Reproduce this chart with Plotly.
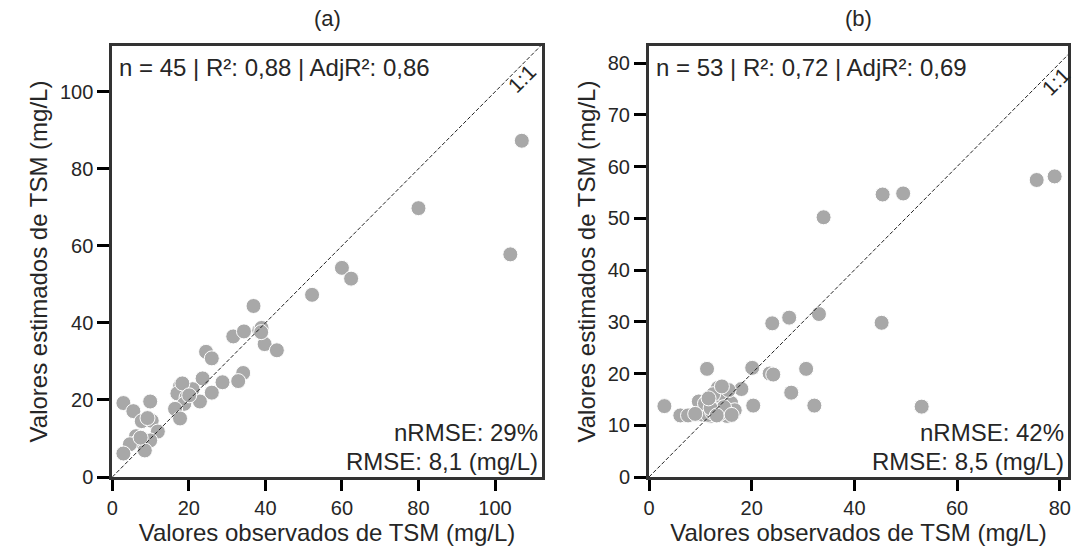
import plotly.graph_objects as go

# Panel (a) data
obs_a = [107, 104, 80, 60, 62.4, 52.2, 36.9, 31.6, 34.4, 38.4, 39, 39.8, 43, 24.5, 26,
         34.2, 32.9, 28.8, 23.6, 26, 22.9, 21, 17.7, 17, 19.4, 18.8, 16.4, 17.7, 2.9, 5.5,
         9.9, 7.7, 10.3, 11.9, 6.2, 6.8, 9.9, 4.6, 8.5, 2.9, 18.3, 20.1, 9.2, 7.4, 38.9]
est_a = [87.3, 57.8, 69.8, 54.3, 51.5, 47.3, 44.4, 36.5, 37.8, 38.1, 38.7, 34.5, 32.9, 32.5, 30.8,
         27, 24.9, 24.6, 25.6, 21.9, 19.6, 22.8, 23.6, 21.7, 20.7, 19, 17.7, 15.2, 19.2, 17.1,
         19.6, 14.5, 14.6, 11.8, 10.6, 9.3, 9.5, 8.5, 6.9, 6.1, 24.3, 21.2, 15.3, 10.2, 37.6]

# Panel (b) data
obs_b = [3, 6.1, 7.6, 9.7, 11.3, 10.6, 11.2, 11.9, 13.4, 13.1, 14.8, 13.7, 15.7, 15.2, 16.4,
         18, 20.1, 20.3, 23.5, 24.2, 24, 27.3, 27.7, 30.6, 32.2, 33.1, 45.3, 53.1, 34.0, 45.5,
         49.5, 75.5, 79, 10.2, 11.5, 12.3, 12.8, 14.3, 14.0, 15.0, 12.5, 16.0, 16.7, 10.9, 13.8,
         14.6, 12.0, 15.5, 9.0, 13.2, 14.2, 11.6, 16.1]
est_b = [13.7, 11.9, 11.9, 14.6, 20.9, 12.3, 14.6, 11.8, 17.2, 15.8, 16.5, 14.0, 13.9, 11.8, 12.4,
         17.0, 21.1, 13.8, 20.0, 19.8, 29.7, 30.8, 16.3, 20.9, 13.8, 31.5, 29.8, 13.6, 50.2, 54.6,
         54.8, 57.4, 58.1, 12.1, 12.0, 12.5, 14.2, 14.5, 15.6, 15.2, 16.0, 14.3, 12.9, 14.2, 12.2,
         13.5, 13.3, 16.8, 12.2, 11.9, 17.5, 15.2, 12.0]

xticks_a = [0, 20, 40, 60, 80, 100]
yticks_a = [0, 20, 40, 60, 80, 100]
xticks_b = [0, 20, 40, 60, 80]
yticks_b = [0, 10, 20, 30, 40, 50, 60, 70, 80]
range_a_x = [0, 112.2]
range_a_y = [0, 111.9]
range_b_x = [0, 81.6]
range_b_y = [0, 83.3]

stats_a = "n = 45 | R²: 0,88 | AdjR²: 0,86"
stats_b = "n = 53 | R²: 0,72 | AdjR²: 0,69"
err_a = ["nRMSE: 29%", "RMSE: 8,1 (mg/L)"]
err_b = ["nRMSE: 42%", "RMSE: 8,5 (mg/L)"]
xtitle = "Valores observados de TSM (mg/L)"
ytitle = "Valores estimados de TSM (mg/L)"

FONT = "Liberation Sans, Arial, sans-serif"
TXT = "#262626"
AX = "#333333"
TICK = "black"
MK = "#a8a8a8"

fig = go.Figure()

marker = dict(size=15, color=MK, line=dict(color="white", width=1))
fig.add_trace(go.Scatter(x=obs_a, y=est_a, mode="markers", marker=marker,
                         xaxis="x", yaxis="y", showlegend=False))
fig.add_trace(go.Scatter(x=obs_b, y=est_b, mode="markers", marker=marker,
                         xaxis="x2", yaxis="y2", showlegend=False))
# 1:1 lines
fig.add_trace(go.Scatter(x=[0, 120], y=[0, 120], mode="lines",
                         line=dict(color="#222", width=1, dash="4px,2px"),
                         xaxis="x", yaxis="y", showlegend=False, hoverinfo="skip"))
fig.add_trace(go.Scatter(x=[0, 90], y=[0, 90], mode="lines",
                         line=dict(color="#222", width=1, dash="4px,2px"),
                         xaxis="x2", yaxis="y2", showlegend=False, hoverinfo="skip"))

W, H = 1075, 558
M = 5
PW, PH = W - 2 * M, H - 2 * M

def fx(px):
    return (px - M) / PW

def fy(py):
    return (H - M - py) / PH

ydom = [fy(477), fy(46)]
xdom_a = [fx(112.3), fx(541.7)]
xdom_b = [fx(649), fx(1068)]

def axis(dom, rng, tvals, anchor, title, tlen):
    return dict(domain=dom, range=rng, tickvals=tvals, ticks="outside",
                ticklen=tlen, tickwidth=3, tickcolor=TICK,
                showline=True, linewidth=3, linecolor=AX, mirror=True,
                showgrid=False, zeroline=False, anchor=anchor,
                tickfont=dict(size=20, color=TXT, family=FONT),
                title=dict(text=title, font=dict(size=24, color=TXT, family=FONT), standoff=6))

fig.update_layout(
    template="none",
    width=W, height=H, margin=dict(l=M, r=M, t=M, b=M),
    plot_bgcolor="white", paper_bgcolor="white",
    font=dict(family=FONT, color=TXT),
    xaxis=axis(xdom_a, range_a_x, xticks_a, "y", xtitle, 11),
    yaxis=axis(ydom, range_a_y, yticks_a, "x", ytitle, 12),
    xaxis2=axis(xdom_b, range_b_x, xticks_b, "y2", xtitle, 11),
    yaxis2=axis(ydom, range_b_y, yticks_b, "x2", ytitle, 12),
)

ann = []
for xr, yr, st, er, lab, xl, yl in [("x", "y", stats_a, err_a, "(a)", 107, 103.5),
                                    ("x2", "y2", stats_b, err_b, "(b)", 79.2, 76.5)]:
    ann.append(dict(xref=xr + " domain", yref=yr + " domain", x=0, y=0.951, xshift=5,
                    xanchor="left", yanchor="middle", text=st, showarrow=False,
                    font=dict(size=24, color=TXT, family=FONT)))
    ann.append(dict(xref=xr + " domain", yref=yr + " domain", x=1, y=0.104, xshift=-2,
                    xanchor="right", yanchor="middle", text=er[0], showarrow=False,
                    font=dict(size=24, color=TXT, family=FONT)))
    ann.append(dict(xref=xr + " domain", yref=yr + " domain", x=1, y=0.035, xshift=-2,
                    xanchor="right", yanchor="middle", text=er[1], showarrow=False,
                    font=dict(size=24, color=TXT, family=FONT)))
    ann.append(dict(xref=xr + " domain", yref="paper", x=0.5, y=fy(18),
                    xanchor="center", yanchor="middle", text=lab, showarrow=False,
                    font=dict(size=22, color=TXT, family=FONT)))
    ann.append(dict(xref=xr, yref=yr, x=xl, y=yl, textangle=-45,
                    xanchor="center", yanchor="middle", text="1:1", showarrow=False,
                    font=dict(size=21, color=TXT, family=FONT)))
fig.update_layout(annotations=ann)

fig.write_html("out.html")
